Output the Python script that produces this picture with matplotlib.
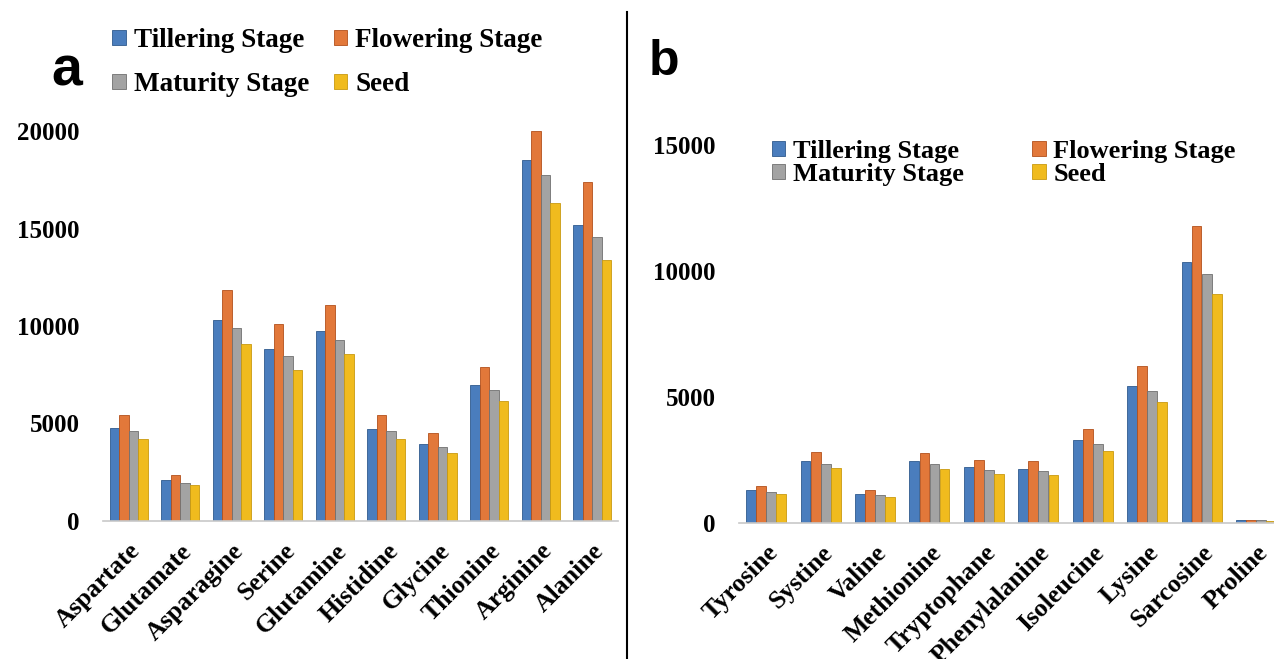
import numpy as np
import matplotlib
matplotlib.use("Agg")
from matplotlib import pyplot as plt
from matplotlib.lines import Line2D
from matplotlib.transforms import ScaledTranslation

# panel a
amino_a = ["Aspartate", "Glutamate", "Asparagine", "Serine", "Glutamine",
           "Histidine", "Glycine", "Thionine", "Arginine", "Alanine"]
tiller_a = [4750, 2080, 10300, 8800, 9750, 4730, 3930, 6980, 18500, 15200]
flower_a = [5450, 2380, 11850, 10100, 11100, 5450, 4530, 7900, 20000, 17400]
mature_a = [4600, 1970, 9900, 8450, 9300, 4600, 3780, 6700, 17750, 14550]
seed_a = [4200, 1830, 9100, 7750, 8550, 4200, 3490, 6150, 16300, 13400]

# panel b
amino_b = ["Tyrosine", "Systine", "Valine", "Methionine", "Tryptophane",
           "Phenylalanine", "Isoleucine", "Lysine", "Sarcosine", "Proline"]
tiller_b = [1300, 2470, 1150, 2450, 2210, 2140, 3280, 5450, 10350, 130]
flower_b = [1480, 2830, 1320, 2790, 2510, 2450, 3730, 6220, 11800, 130]
mature_b = [1240, 2350, 1110, 2340, 2120, 2050, 3120, 5230, 9900, 100]
seed_b = [1150, 2190, 1020, 2160, 1930, 1900, 2870, 4790, 9100, 80]

stages = ["Tillering Stage", "Flowering Stage", "Maturity Stage", "Seed"]
colors = ["#4a7dbd", "#e2783a", "#a3a3a3", "#f0bb1e"]
edges = ["#2f5a8e", "#b2501c", "#707070", "#c99a10"]

serif = "Liberation Serif"

fig = plt.figure(figsize=(12.74, 6.59), dpi=100)


def panel(ax, names, series, ymax, yticks):
    x = np.arange(len(names))
    w = 0.18
    for i, vals in enumerate(series):
        ax.bar(x + (i - 1.5) * (w + 0.005), vals, width=w, color=colors[i],
               edgecolor=edges[i], linewidth=0.6, label=stages[i])
    ax.set_ylim(0, ymax)
    ax.set_yticks(yticks)
    ax.set_yticklabels([str(t) for t in yticks], fontfamily=serif,
                       fontweight="bold", fontsize=18)
    ax.set_xticks(x)
    ax.set_xticklabels(names, rotation=45, ha="right", rotation_mode="anchor",
                       fontfamily=serif, fontweight="bold", fontsize=18.5)
    # nudge the slanted labels a little to the left
    shift = ScaledTranslation(-6 / 100, 0, fig.dpi_scale_trans)
    for t in ax.get_xticklabels():
        t.set_transform(t.get_transform() + shift)
    ax.tick_params(axis="both", length=0)
    ax.tick_params(axis="y", pad=17)
    ax.tick_params(axis="x", pad=13)
    for s in ["top", "right", "left"]:
        ax.spines[s].set_visible(False)
    ax.spines["bottom"].set_color("#c8c8c8")
    ax.spines["bottom"].set_linewidth(1.2)


ax1 = fig.add_axes([103 / 1274, 1 - 521 / 659, 515 / 1274, 390 / 659])
panel(ax1, amino_a, [tiller_a, flower_a, mature_a, seed_a], 20000,
      [0, 5000, 10000, 15000, 20000])
ax1.set_xlim(-0.5, 9.5)

ax2 = fig.add_axes([739 / 1274, 1 - 523 / 659, 535 / 1274, 403 / 659])
panel(ax2, amino_b, [tiller_b, flower_b, mature_b, seed_b], 16000,
      [0, 5000, 10000, 15000])
ax2.set_xlim(-0.5, 9.33)

h, l = ax1.get_legend_handles_labels()
order = [0, 2, 1, 3]
fig.legend([h[i] for i in order], [l[i] for i in order], ncol=2,
           loc="upper left", bbox_to_anchor=(88 / 1274, 1 - 4 / 659),
           frameon=False, prop={"family": serif, "weight": "bold", "size": 19.5},
           handlelength=0.5, handleheight=0.5, handletextpad=0.3,
           columnspacing=0.9, labelspacing=0.7)

h, l = ax2.get_legend_handles_labels()
fig.legend([h[i] for i in order], [l[i] for i in order], ncol=2,
           loc="upper left", bbox_to_anchor=(748 / 1274, 1 - 116 / 659),
           frameon=False, prop={"family": serif, "weight": "bold", "size": 19},
           handlelength=0.5, handleheight=0.5, handletextpad=0.3,
           columnspacing=2.6, labelspacing=0.0)

fig.text(67 / 1274, 1 - 72 / 659, "a", fontfamily="Liberation Sans",
         fontweight="bold", fontsize=40, ha="center", va="center")
fig.text(664 / 1274, 1 - 62 / 659, "b", fontfamily="Liberation Sans",
         fontweight="bold", fontsize=36, ha="center", va="center")

fig.add_artist(Line2D([627 / 1274, 627 / 1274], [0, 1 - 12 / 659],
                      color="black", linewidth=1.5, transform=fig.transFigure))

fig.savefig("out.png", dpi=100, facecolor="white")
